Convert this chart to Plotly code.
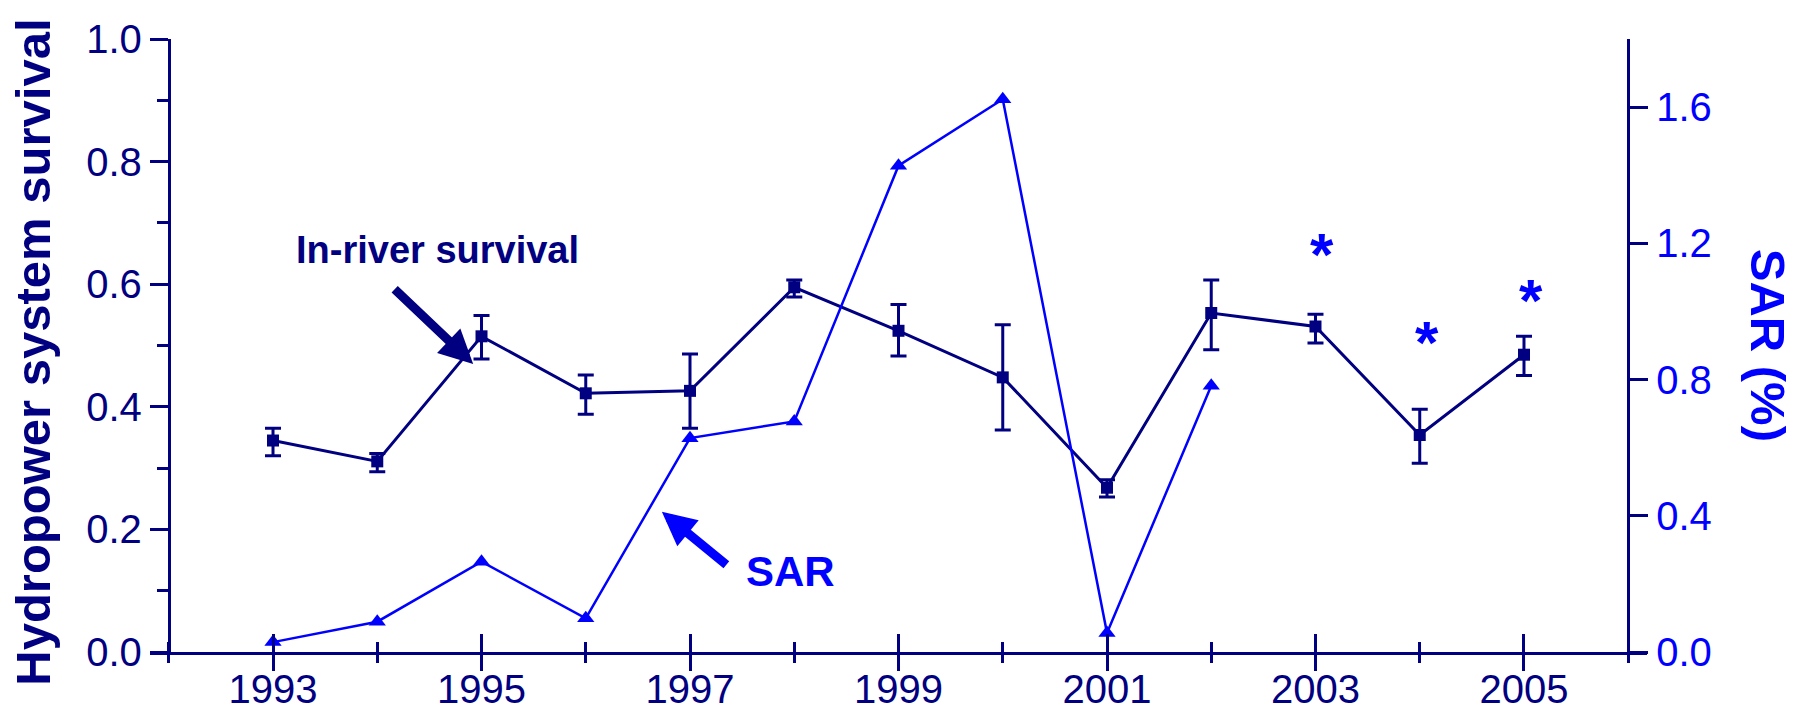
import plotly.graph_objects as go

# ---------------- data ----------------
years = [1993, 1994, 1995, 1996, 1997, 1998, 1999, 2000, 2001, 2002, 2003, 2004, 2005]
survival = [0.345, 0.311, 0.515, 0.422, 0.426, 0.595, 0.524, 0.448, 0.268, 0.553, 0.531, 0.354, 0.485]
survival_err_plus = [0.020, 0.013, 0.034, 0.030, 0.060, 0.012, 0.043, 0.086, 0.013, 0.054, 0.020, 0.042, 0.030]
survival_err_minus = [0.025, 0.017, 0.037, 0.034, 0.061, 0.016, 0.041, 0.086, 0.015, 0.060, 0.027, 0.046, 0.034]

sar_years = [1993, 1994, 1995, 1996, 1997, 1998, 1999, 2000, 2001, 2002]
sar = [0.029, 0.089, 0.265, 0.099, 0.628, 0.677, 1.428, 1.623, 0.056, 0.782]

star_years = [2003, 2004, 2005]
star_sar = [1.193, 0.934, 1.058]

x_tickvals = [1993, 1995, 1997, 1999, 2001, 2003, 2005]
x_ticktext = ["1993", "1995", "1997", "1999", "2001", "2003", "2005"]
y_tickvals = [0.0, 0.2, 0.4, 0.6, 0.8, 1.0]
y_ticktext = ["0.0", "0.2", "0.4", "0.6", "0.8", "1.0"]
y2_tickvals = [0.0, 0.4, 0.8, 1.2, 1.6]
y2_ticktext = ["0.0", "0.4", "0.8", "1.2", "1.6"]

# ---------------- style ----------------
NAVY = "#000080"
BLUE = "#0000FF"
FONT = "Liberation Sans, Arial, sans-serif"
PAGE_W, PAGE_H = 1795, 720
OFF = 8  # default page body margin
W, H = PAGE_W - OFF, PAGE_H - OFF

x_lo, x_hi = 1992, 2006
ext = 0.18
left_px, right_px = 169, 1628          # target screen positions of the y axes
top_px, bottom_px = 39, 652             # target screen positions of y=1 and y=0
ppy = (right_px - left_px) / (x_hi - x_lo)
m_l = left_px - ext * ppy - OFF
m_r = PAGE_W - (right_px + ext * ppy)
m_t = top_px - OFF
m_b = PAGE_H - bottom_px
xr = [x_lo - ext, x_hi + ext]
pos_left = ext / (xr[1] - xr[0])
pos_right = 1 - pos_left
plot_w = W - m_l - m_r
plot_h = H - m_t - m_b


def px_to_paper_x(px):
    return (px - OFF - m_l) / plot_w


def px_to_paper_y(py):
    return (H - m_b - (py - OFF)) / plot_h


fig = go.Figure()

fig.add_trace(go.Scatter(
    x=years, y=survival, mode="lines+markers",
    line=dict(color=NAVY, width=3),
    marker=dict(symbol="square", size=12, color=NAVY),
    error_y=dict(type="data", symmetric=False, array=survival_err_plus,
                 arrayminus=survival_err_minus, color=NAVY, thickness=3, width=8),
    xaxis="x", yaxis="y", showlegend=False,
))

fig.add_trace(go.Scatter(
    x=sar_years, y=sar, mode="lines+markers",
    line=dict(color=BLUE, width=2.5),
    marker=dict(symbol="triangle-up", size=15, color=BLUE),
    xaxis="x2", yaxis="y2", showlegend=False,
))

axis_font = dict(family=FONT, size=40, color=NAVY)

fig.update_layout(
    width=W, height=H,
    margin=dict(l=m_l, r=m_r, t=m_t, b=m_b, pad=0, autoexpand=False),
    paper_bgcolor="white", plot_bgcolor="white",
    font=dict(family=FONT),
    # main x axis: labels + upward half of the crossing ticks
    xaxis=dict(
        range=xr, showgrid=False, zeroline=False, automargin=False,
        showline=True, linecolor=NAVY, linewidth=3,
        tickmode="array", tickvals=x_tickvals, ticktext=x_ticktext,
        ticks="inside", ticklen=18, tickwidth=3, tickcolor=NAVY,
        minor=dict(dtick=1, tick0=1992, ticks="inside", ticklen=10, tickwidth=3, tickcolor=NAVY),
        tickfont=axis_font, anchor="y",
    ),
    # overlay x axis: downward half of the crossing ticks
    xaxis2=dict(
        range=xr, overlaying="x", anchor="y2", side="bottom", automargin=False,
        showgrid=False, zeroline=False, showline=False, showticklabels=False,
        tickmode="array", tickvals=x_tickvals,
        ticks="outside", ticklen=18, tickwidth=3, tickcolor=NAVY,
        minor=dict(dtick=1, tick0=1992, ticks="outside", ticklen=10, tickwidth=3, tickcolor=NAVY),
    ),
    yaxis=dict(
        range=[0, 1], showgrid=False, zeroline=False, automargin=False,
        showline=True, linecolor=NAVY, linewidth=3,
        anchor="free", position=pos_left,
        tickmode="array", tickvals=y_tickvals, ticktext=y_ticktext,
        ticks="outside", ticklen=18, tickwidth=3, tickcolor=NAVY,
        minor=dict(dtick=0.1, tick0=0, ticks="outside", ticklen=11, tickwidth=3, tickcolor=NAVY),
        tickfont=axis_font,
    ),
    yaxis2=dict(
        range=[0, 1.8], overlaying="y", side="right", automargin=False,
        anchor="free", position=pos_right,
        showgrid=False, zeroline=False,
        showline=True, linecolor=NAVY, linewidth=3,
        tickmode="array", tickvals=y2_tickvals, ticktext=y2_ticktext,
        ticks="outside", ticklen=18, tickwidth=3, tickcolor=NAVY,
        tickfont=dict(family=FONT, size=40, color=BLUE),
    ),
)

annotations = []
# axis titles
annotations.append(dict(
    text="<b>Hydropower system survival</b>", xref="paper", yref="paper",
    x=px_to_paper_x(33), y=px_to_paper_y(352), xanchor="center", yanchor="middle",
    textangle=-90, showarrow=False, font=dict(family=FONT, size=49, color=NAVY),
))
annotations.append(dict(
    text="<b>SAR (%)</b>", xref="paper", yref="paper",
    x=px_to_paper_x(1768), y=px_to_paper_y(345), xanchor="center", yanchor="middle",
    textangle=90, showarrow=False, font=dict(family=FONT, size=49, color=BLUE),
))
# labels
annotations.append(dict(
    text="<b>In-river survival</b>", xref="x", yref="y",
    x=1994.58, y=0.656, xanchor="center", yanchor="middle",
    showarrow=False, font=dict(family=FONT, size=38, color=NAVY),
))
annotations.append(dict(
    text="<b>SAR</b>", xref="x", yref="y",
    x=1997.96, y=0.1306, xanchor="center", yanchor="middle",
    showarrow=False, font=dict(family=FONT, size=42, color=BLUE),
))
# arrows
annotations.append(dict(
    text="", xref="x", yref="y", x=1994.92, y=0.470, ax=-80, ay=-76,
    showarrow=True, arrowhead=2, arrowsize=0.75, arrowwidth=9, arrowcolor=NAVY, standoff=0,
))
annotations.append(dict(
    text="", xref="x", yref="y", x=1996.73, y=0.2286, ax=66, ay=54,
    showarrow=True, arrowhead=2, arrowsize=0.75, arrowwidth=9, arrowcolor=BLUE, standoff=0,
))
# asterisks
for yr, v in zip(star_years, star_sar):
    annotations.append(dict(
        text="<b>*</b>", xref="x", yref="y2", x=yr, y=v,
        xanchor="center", yanchor="middle", xshift=7, yshift=-9,
        showarrow=False, font=dict(family=FONT, size=60, color=BLUE),
    ))

fig.update_layout(annotations=annotations)

fig.write_html("out.html")
